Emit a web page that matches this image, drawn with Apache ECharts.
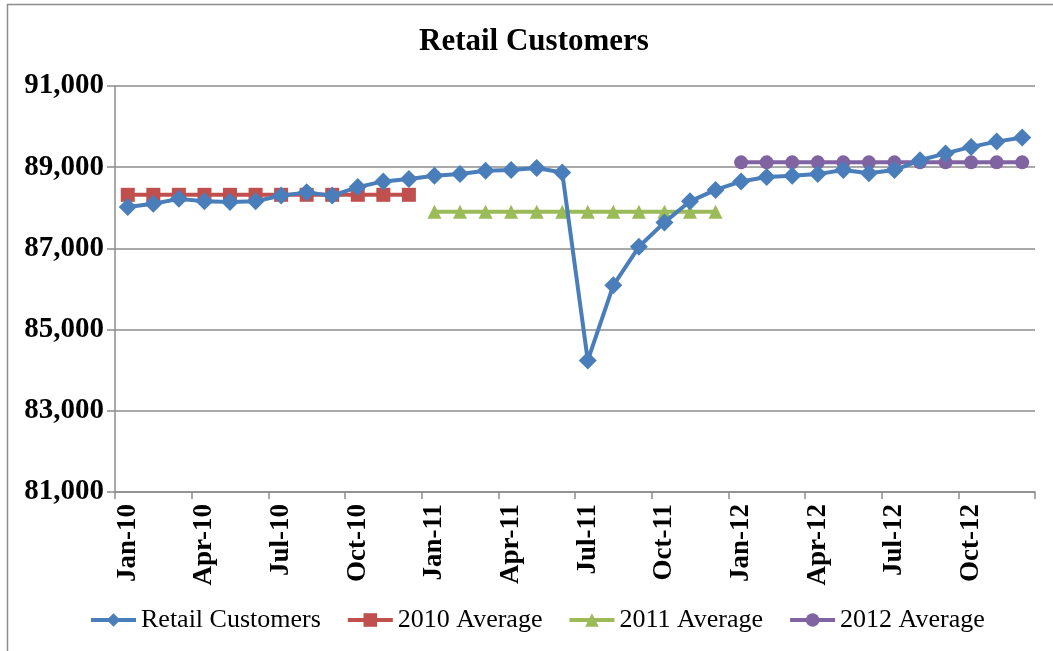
<!DOCTYPE html>
<html>
<head>
<meta charset="utf-8">
<script src="https://cdn.jsdelivr.net/npm/echarts@6/dist/echarts.min.js"></script>
<style>
html,body{margin:0;padding:0;background:#fff;}
#chart{width:1053px;height:651px;}
</style>
</head>
<body>
<div id="chart"></div>
<script>
const categories = [
  'Jan-10','Feb-10','Mar-10','Apr-10','May-10','Jun-10','Jul-10','Aug-10','Sep-10','Oct-10','Nov-10','Dec-10',
  'Jan-11','Feb-11','Mar-11','Apr-11','May-11','Jun-11','Jul-11','Aug-11','Sep-11','Oct-11','Nov-11','Dec-11',
  'Jan-12','Feb-12','Mar-12','Apr-12','May-12','Jun-12','Jul-12','Aug-12','Sep-12','Oct-12','Nov-12','Dec-12'
];
const retailCustomers = [
  88020, 88100, 88220, 88160, 88140, 88160, 88300, 88380, 88300, 88510, 88650, 88710,
  88790, 88830, 88910, 88930, 88980, 88870, 84240, 86090, 87040, 87640, 88160, 88440,
  88650, 88760, 88790, 88830, 88930, 88850, 88930, 89170, 89340, 89500, 89630, 89730
];
const avg2010 = [
  88320, 88320, 88320, 88320, 88320, 88320, 88320, 88320, 88320, 88320, 88320, 88320,
  null, null, null, null, null, null, null, null, null, null, null, null,
  null, null, null, null, null, null, null, null, null, null, null, null
];
const avg2011 = [
  null, null, null, null, null, null, null, null, null, null, null, null,
  87900, 87900, 87900, 87900, 87900, 87900, 87900, 87900, 87900, 87900, 87900, 87900,
  null, null, null, null, null, null, null, null, null, null, null, null
];
const avg2012 = [
  null, null, null, null, null, null, null, null, null, null, null, null,
  null, null, null, null, null, null, null, null, null, null, null, null,
  89120, 89120, 89120, 89120, 89120, 89120, 89120, 89120, 89120, 89120, 89120, 89120
];
const seriesNames = ['Retail Customers', '2010 Average', '2011 Average', '2012 Average'];
const yTicks = { min: 81000, max: 91000, interval: 2000 };

const serif = '"Liberation Serif", "Times New Roman", serif';
const chart = echarts.init(document.getElementById('chart'));
function mk(name, data, color, symbol, size, z) {
  return {
    name: name, type: 'line', data: data, z: z,
    symbol: symbol, symbolSize: size, showSymbol: true, showAllSymbol: true,
    lineStyle: { color: color, width: 4 },
    itemStyle: { color: color },
    connectNulls: false, animation: false
  };
}
chart.setOption({
  animation: false,
  backgroundColor: '#fff',
  title: {
    text: 'Retail Customers', left: 414, top: 21,
    textStyle: { fontFamily: serif, fontWeight: 'bold', fontSize: 31, color: '#000' }
  },
  graphic: [{
    type: 'rect', shape: { x: 7.5, y: 4.5, width: 1100, height: 700 },
    style: { fill: 'none', stroke: '#8c8c8c', lineWidth: 1.5 }, silent: true
  }],
  legend: {
    bottom: 13, left: 84, itemGap: 25, itemWidth: 45, itemHeight: 17,
    data: seriesNames,
    lineStyle: { width: 4 },
    textStyle: { fontFamily: serif, fontSize: 26, color: '#000' }
  },
  grid: { left: 115, right: 18, top: 86, bottom: 159, containLabel: false },
  xAxis: {
    type: 'category', data: categories, boundaryGap: true,
    axisLine: { lineStyle: { color: '#8c8c8c', width: 1.5 } },
    axisTick: { show: true, interval: 2, length: 7, lineStyle: { color: '#8c8c8c', width: 1.5 } },
    axisLabel: {
      interval: 2, rotate: 90, margin: 12,
      fontFamily: serif, fontWeight: 'bold', fontSize: 27, color: '#000'
    },
    splitLine: { show: false }
  },
  yAxis: {
    type: 'value', min: yTicks.min, max: yTicks.max, interval: yTicks.interval,
    axisLine: { show: true, lineStyle: { color: '#8c8c8c', width: 1.5 } },
    axisTick: { show: true, length: 8, lineStyle: { color: '#8c8c8c', width: 1.5 } },
    axisLabel: {
      margin: 11, fontFamily: serif, fontWeight: 'bold', fontSize: 29, color: '#000',
      formatter: v => v.toLocaleString('en-US')
    },
    splitLine: { show: true, lineStyle: { color: '#8c8c8c', width: 1.5 } }
  },
  series: [
    mk(seriesNames[1], avg2010, '#C0504D', 'rect', 14, 2),
    mk(seriesNames[2], avg2011, '#9BBB59', 'triangle', 14, 2),
    mk(seriesNames[3], avg2012, '#8064A2', 'circle', 14, 2),
    mk(seriesNames[0], retailCustomers, '#4A7EBB', 'diamond', 18, 3)
  ]
});
</script>
</body>
</html>
